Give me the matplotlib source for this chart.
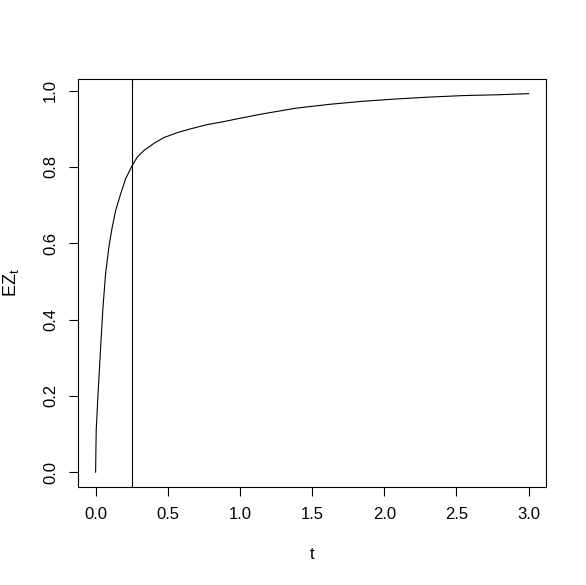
import matplotlib
matplotlib.use("Agg")
import matplotlib.pyplot as plt

# values
t_vals = [0.0, 0.004, 0.018, 0.035, 0.051, 0.069, 0.092, 0.115, 0.139, 0.174,
          0.208, 0.254, 0.289, 0.335, 0.405, 0.474, 0.567, 0.66, 0.775, 0.891,
          1.007, 1.157, 1.389, 1.62, 1.85, 2.08, 2.31, 2.55, 2.78, 3.0]
ez_vals = [0.0, 0.109, 0.214, 0.328, 0.432, 0.520, 0.590, 0.642, 0.686, 0.730,
           0.769, 0.804, 0.826, 0.843, 0.862, 0.877, 0.890, 0.900, 0.911, 0.919,
           0.928, 0.939, 0.954, 0.964, 0.972, 0.978, 0.983, 0.987, 0.989, 0.992]
vline_t = 0.25

x_ticks = [0.0, 0.5, 1.0, 1.5, 2.0, 2.5, 3.0]
y_ticks = [0.0, 0.2, 0.4, 0.6, 0.8, 1.0]

plt.rcParams['font.family'] = ['Liberation Sans', 'DejaVu Sans']
plt.rcParams['mathtext.fontset'] = 'custom'
plt.rcParams['mathtext.rm'] = 'Liberation Sans'
plt.rcParams['mathtext.it'] = 'Liberation Sans'

fig = plt.figure(figsize=(5.86, 5.85), dpi=100)
ax = fig.add_axes([0.1336, 0.167, 0.7981, 0.6988])

ax.plot(t_vals, ez_vals, color='black', linewidth=0.8)
ax.axvline(vline_t, color='black', linewidth=0.8)

ax.set_xlim(-0.12, 3.12)
ax.set_ylim(-0.0397, 1.0317)
ax.set_xticks(x_ticks)
ax.set_yticks(y_ticks)
ax.set_xticklabels([f"{v:.1f}" for v in x_ticks])
ax.set_yticklabels([f"{v:.1f}" for v in y_ticks], rotation=90, va='center')

for s in ax.spines.values():
    s.set_linewidth(0.8)
ax.tick_params(direction='out', length=6.5, width=0.8, labelsize=12, pad=8, colors='black')

ax.set_xlabel('t', fontsize=12, labelpad=18)
ax.set_ylabel('$\\mathrm{EZ}_t$', fontsize=13, labelpad=16)

fig.savefig('out.png', dpi=100)
